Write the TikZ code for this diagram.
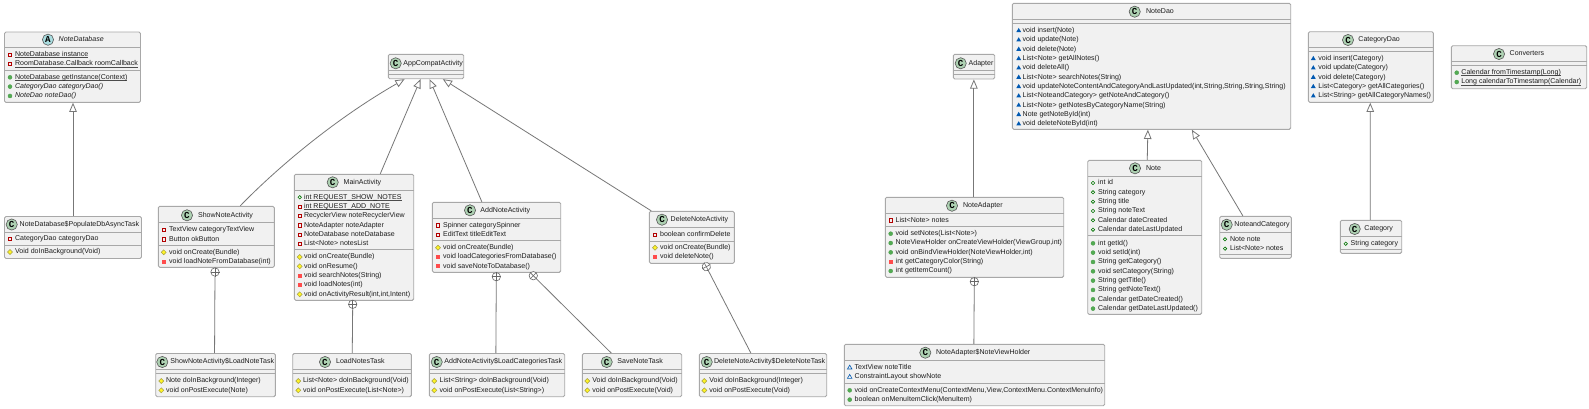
\documentclass[tikz,border=0pt]{standalone}
\usepackage{xcolor}
\usepackage{fontspec}
\setmainfont{Liberation Sans}
\setmonofont{Liberation Mono}
\usetikzlibrary{arrows.meta,calc,shapes.geometric}
\definecolor{ink}{HTML}{1C1C1C}
\definecolor{boxline}{HTML}{A8A8A8}
\definecolor{boxfill}{HTML}{F1F1F1}
\definecolor{wire}{HTML}{777777}
\definecolor{markgreen}{HTML}{ADD1B2}
\definecolor{markblue}{HTML}{A9DCDF}
\tikzset{
 classbox/.style={draw=boxline,fill=boxfill,line width=0.45pt,rounded corners=0.7pt,inner sep=0pt},
 sepline/.style={draw=boxline,line width=0.45pt},
 titletext/.style={anchor=west,inner sep=0pt,text=ink,text height=2.7pt,text depth=0.8pt},
 rowtext/.style={anchor=west,inner sep=0pt,text=ink,text height=2.7pt,text depth=0.8pt},
 markC/.style={circle,draw=black!65,line width=0.3pt,fill=markgreen,minimum size=5.6pt,inner sep=0pt,font=\fontsize{4.6}{5}\ttfamily\bfseries},
 markA/.style={markC,fill=markblue},
 privf/.style={rectangle,draw=red!70!black,line width=0.3pt,minimum size=1.7pt,inner sep=0pt},
 privm/.style={rectangle,fill=red!60!pink,minimum size=2.1pt,inner sep=0pt},
 protm/.style={diamond,draw=yellow!60!black,fill=yellow!85,line width=0.25pt,minimum size=2.6pt,inner sep=0pt},
 pubf/.style={circle,draw=green!45!black,line width=0.3pt,minimum size=1.7pt,inner sep=0pt},
 pubm/.style={circle,draw=green!45!black!70,fill=green!35!gray,line width=0.2pt,minimum size=2pt,inner sep=0pt},
 pkgf/.style={regular polygon,regular polygon sides=3,draw=blue!50!cyan!70!black,line width=0.3pt,minimum size=2.6pt,inner sep=0pt},
 pkgm/.style={regular polygon,regular polygon sides=3,fill=blue!50!cyan!70!black,minimum size=2.8pt,inner sep=0pt},
 gen/.style={draw=wire,line width=0.4pt,-{Triangle[open,length=4.6pt,width=3.8pt]}},
 assoc/.style={draw=wire,line width=0.4pt},
 nestmark/.style={circle,draw=black!60,fill=white,line width=0.3pt,minimum size=4.2pt,inner sep=0pt},
}
\newsavebox{\ulbox}
\newcommand{\ul}[1]{\sbox{\ulbox}{#1}\rlap{\color{black!70}\rule[-0.65pt]{\wd\ulbox}{0.22pt}}\usebox{\ulbox}}
\newcommand{\members}[5]{\foreach[count=\i] \k/\txt in {#5} {
 \node[\k] (#1\i i) at (#2,{#4+9.33*(\i-1)}) {};
 \node[rowtext] (#1\i) at (#3,{#4+9.33*(\i-1)}) {\txt};}}

\begin{document}
\begin{tikzpicture}[x=0.5pt,y=-0.5pt,font=\fontsize{3.52}{4.5}\selectfont]
\useasboundingbox[fill=white] (0,0) rectangle (1589,408);
% class boxes: name, box, two section lines, mark, title
\foreach \n/\xa/\ya/\xb/\yb/\sa/\sb/\mk/\ic/\tx/\ty/\ttl in {
 NoteDatabase/4.5/32/140.5/102.3/47.5/70.7/A/48/58.3/39.7/{\textit{NoteDatabase}},
 PopulateTask/4.5/216.5/141.5/258.5/232.7/245.5/C/11.7/19.3/224.5/{NoteDatabase\$PopulateDbAsyncTask},
 AppCompatActivity/388.3/54.3/463.7/78.7/70.7/74.3/C/395.7/403/63.3/{AppCompatActivity},
 ShowNoteActivity/158.3/206.3/274.3/267.3/222/245.3/C/187/197.7/215.3/{ShowNoteActivity},
 MainActivity/294.3/174.3/413.7/300.3/190/249.3/C/332.7/343.3/182.3/{MainActivity},
 AddNoteActivity/432.3/202.3/560.7/272.3/218.3/240.7/C/470/480/210.3/{AddNoteActivity},
 DeleteNoteActivity/649.3/211.3/734.3/263.3/227.3/241/C/662/670.3/219.7/{DeleteNoteActivity},
 LoadNoteTask/155.7/353.5/275.3/396.7/369.3/373.3/C/162.3/170/362/{ShowNoteActivity\$LoadNoteTask},
 LoadNotesTask/292.7/353.5/411.3/396.7/369.3/373.3/C/325/335.7/362/{LoadNotesTask},
 LoadCategoriesTask/429.3/353.5/564.7/396.7/369.3/373.3/C/436.7/444/362/{AddNoteActivity\$LoadCategoriesTask},
 SaveNoteTask/582.3/353.5/681.7/396.7/369.3/373.3/C/606.7/617/362/{SaveNoteTask},
 DeleteNoteTask/699.3/353.5/826.7/396.7/369.3/373.3/C/706.7/713.7/362/{DeleteNoteActivity\$DeleteNoteTask},
 Adapter/953.3/54.3/994.7/79/70.3/74.3/C/960.7/968.3/63.3/{Adapter},
 NoteAdapter/885.3/197.3/1063.7/277.3/213.3/226.7/C/952/962.7/205.7/{NoteAdapter},
 NoteViewHolder/844.3/344.3/1104.7/405.7/360.3/383.3/C/925.3/935.7/352.7/{NoteAdapter\$NoteViewHolder},
 NoteDao/1012.3/3.3/1290.7/129.3/19.3/23.3/C/1134.7/1145.7/11.7/{NoteDao},
 Note/1087.7/160.3/1201.7/314.3/176.3/235.3/C/1135/1145.7/168.3/{Note},
 NoteandCategory/1219.7/216.3/1291.3/258.3/232.3/254.3/C/1226.7/1234/224.7/{NoteandCategory},
 CategoryDao/1308.3/31.7/1433.3/102.3/47.7/51.7/C/1348/1358/40/{CategoryDao},
 Category/1340.3/220.3/1401.7/253.3/236.3/249.3/C/1354.7/1364/229/{Category},
 Converters/1451.3/45.7/1586.7/88.7/61.7/65.7/C/1499/1509.3/54/{Converters}} {
 \node[classbox,minimum width={(\xb-\xa)*0.5pt},minimum height={(\yb-\ya)*0.5pt}] (\n) at ({(\xa+\xb)/2},{(\ya+\yb)/2}) {};
 \draw[sepline] (\xa,\sa) -- (\xb,\sa);
 \draw[sepline] (\xa,\sb) -- (\xb,\sb);
 \node[mark\mk] (\n-mark) at (\ic,\ty) {\mk};
 \node[titletext] (\n-title) at (\tx,\ty) {\ttl};
}
% members
\members{NoteDatabase-a}{10}{14.7}{54.7}{privf/{\ul{NoteDatabase instance}},privf/{\ul{RoomDatabase.Callback roomCallback}}}
\members{NoteDatabase-m}{10}{14.7}{77.3}{pubm/{\ul{NoteDatabase getInstance(Context)}},pubm/{\textit{CategoryDao categoryDao()}},pubm/{\textit{NoteDao noteDao()}}}
\members{PopulateTask-a}{10}{14.7}{239}{privf/{CategoryDao categoryDao}}
\members{PopulateTask-m}{10}{14.7}{252}{protm/{Void doInBackground(Void)}}
\members{ShowNoteActivity-a}{163.7}{168.7}{230}{privf/{TextView categoryTextView},privf/{Button okButton}}
\members{ShowNoteActivity-m}{163.7}{168.7}{252.3}{protm/{void onCreate(Bundle)},privm/{void loadNoteFromDatabase(int)}}
\members{MainActivity-a}{299.7}{303.7}{197.3}{pubf/{\ul{int REQUEST\_SHOW\_NOTES}},privf/{\ul{int REQUEST\_ADD\_NOTE}},privf/{RecyclerView noteRecyclerView},privf/{NoteAdapter noteAdapter},privf/{NoteDatabase noteDatabase},privf/{List<Note> notesList}}
\members{MainActivity-m}{299.7}{303.7}{257}{protm/{void onCreate(Bundle)},protm/{void onResume()},privm/{void searchNotes(String)},privm/{void loadNotes(int)},protm/{void onActivityResult(int,int,Intent)}}
\members{AddNoteActivity-a}{438}{442.7}{225.3}{privf/{Spinner categorySpinner},privf/{EditText titleEditText}}
\members{AddNoteActivity-m}{438}{442.7}{247.7}{protm/{void onCreate(Bundle)},privm/{void loadCategoriesFromDatabase()},privm/{void saveNoteToDatabase()}}
\members{DeleteNoteActivity-a}{655}{659.7}{234.7}{privf/{boolean confirmDelete}}
\members{DeleteNoteActivity-m}{655}{659.7}{247.7}{protm/{void onCreate(Bundle)},privm/{void deleteNote()}}
\members{LoadNoteTask-m}{161.3}{165.7}{381}{protm/{Note doInBackground(Integer)},protm/{void onPostExecute(Note)}}
\members{LoadNotesTask-m}{298.3}{302.7}{381}{protm/{List<Note> doInBackground(Void)},protm/{void onPostExecute(List<Note>)}}
\members{LoadCategoriesTask-m}{434.3}{439.3}{381}{protm/{List<String> doInBackground(Void)},protm/{void onPostExecute(List<String>)}}
\members{SaveNoteTask-m}{587.3}{592}{381}{protm/{Void doInBackground(Void)},protm/{void onPostExecute(Void)}}
\members{DeleteNoteTask-m}{704.3}{709}{381}{protm/{Void doInBackground(Integer)},protm/{void onPostExecute(Void)}}
\members{NoteAdapter-a}{890.7}{895.3}{220.3}{privf/{List<Note> notes}}
\members{NoteAdapter-m}{890.7}{895.3}{233.7}{pubm/{void setNotes(List<Note>)},pubm/{NoteViewHolder onCreateViewHolder(ViewGroup,int)},pubm/{void onBindViewHolder(NoteViewHolder,int)},privm/{int getCategoryColor(String)},pubm/{int getItemCount()}}
\members{NoteViewHolder-a}{849.7}{854.3}{367.7}{pkgf/{TextView noteTitle},pkgf/{ConstraintLayout showNote}}
\members{NoteViewHolder-m}{849.7}{854.3}{390.3}{pubm/{void onCreateContextMenu(ContextMenu,View,ContextMenu.ContextMenuInfo)},pubm/{boolean onMenuItemClick(MenuItem)}}
\members{NoteDao-m}{1018.7}{1022.3}{30.7}{pkgm/{void insert(Note)},pkgm/{void update(Note)},pkgm/{void delete(Note)},pkgm/{List<Note> getAllNotes()},pkgm/{void deleteAll()},pkgm/{List<Note> searchNotes(String)},pkgm/{void updateNoteContentAndCategoryAndLastUpdated(int,String,String,String,String)},pkgm/{List<NoteandCategory> getNoteAndCategory()},pkgm/{List<Note> getNotesByCategoryName(String)},pkgm/{Note getNoteById(int)},pkgm/{void deleteNoteById(int)}}
\members{Note-a}{1093}{1097.7}{183}{pubf/{int id},pubf/{String category},pubf/{String title},pubf/{String noteText},pubf/{Calendar dateCreated},pubf/{Calendar dateLastUpdated}}
\members{Note-m}{1093}{1097.7}{243.3}{pubm/{int getId()},pubm/{void setId(int)},pubm/{String getCategory()},pubm/{void setCategory(String)},pubm/{String getTitle()},pubm/{String getNoteText()},pubm/{Calendar getDateCreated()},pubm/{Calendar getDateLastUpdated()}}
\members{NoteandCategory-a}{1225}{1229.7}{239.3}{pubf/{Note note},pubf/{List<Note> notes}}
\members{CategoryDao-m}{1313.3}{1318}{58.7}{pkgm/{void insert(Category)},pkgm/{void update(Category)},pkgm/{void delete(Category)},pkgm/{List<Category> getAllCategories()},pkgm/{List<String> getAllCategoryNames()}}
\members{Category-a}{1345.7}{1350.3}{243.7}{pubf/{String category}}
\members{Converters-m}{1456.7}{1461}{72.7}{pubm/{\ul{Calendar fromTimestamp(Long)}},pubm/{\ul{Long calendarToTimestamp(Calendar)}}}
% extends
\draw[gen] (PopulateTask.north) -- (PopulateTask.north |- NoteDatabase.south);
\draw[gen] ($(MainActivity.north west)+(86.4,0)$) -- ($(AppCompatActivity.south west)+(32.7,0)$);
\draw[gen] ($(AddNoteActivity.north west)+(50,0)$) -- ($(AppCompatActivity.south west)+(41.7,0)$);
\draw[gen] ($(DeleteNoteActivity.north west)+(2.4,0)$) -- ($(AppCompatActivity.south west)+(55,0)$);
\draw[gen] ($(ShowNoteActivity.north west)+(82.4,0)$) .. controls (272,173) and (330,122) .. ($(AppCompatActivity.south west)+(16.7,0)$);
\draw[gen] ($(NoteAdapter.north west)+(89,0)$) -- ($(Adapter.south west)+(21,0)$);
\draw[gen] ($(Note.north west)+(60,0)$) -- ($(NoteDao.south west)+(136,0)$);
\draw[gen] ($(NoteandCategory.north west)+(23.6,0)$) -- ($(NoteDao.south west)+(180,0)$);
\draw[gen] ($(Category.north west)+(30.4,0)$) -- ($(CategoryDao.south west)+(62.4,0)$);
% inner classes
\foreach \n/\cx/\cy/\rot/\inner/\dx in {
 nestA/215/272/0/LoadNoteTask/59.3,
 nestB/352.7/304.3/0/LoadNotesTask/60,
 nestC/496.3/276.7/0/LoadCategoriesTask/67,
 nestD/533.3/275.7/45/SaveNoteTask/29.4,
 nestE/706.3/266.7/28/DeleteNoteTask/52,
 nestF/974.3/281.7/0/NoteViewHolder/130} {
 \node[nestmark,rotate=\rot] (\n) at (\cx,\cy) {};
 \draw[line width=0.3pt,black!60] (\n.north) -- (\n.south);
 \draw[line width=0.3pt,black!60] (\n.west) -- (\n.east);
 \draw[assoc] (\n) -- ($(\inner.north west)+(\dx,0)$);
}
\end{tikzpicture}
\end{document}
